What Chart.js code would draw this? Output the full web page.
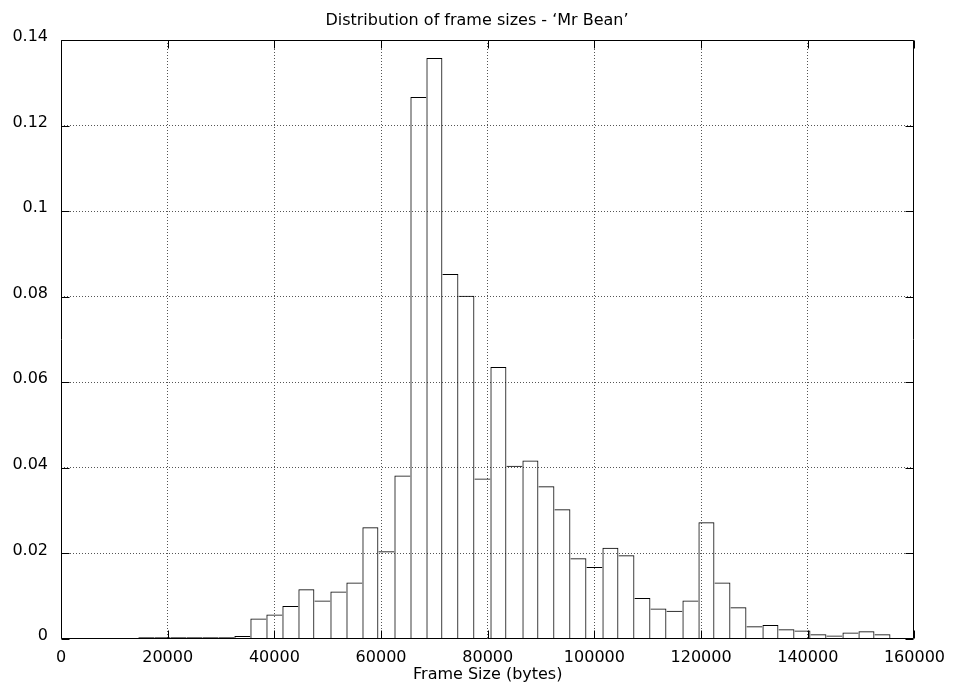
<!DOCTYPE html>
<html>
<head>
<meta charset="utf-8">
<script src="https://cdn.jsdelivr.net/npm/chart.js@4/dist/chart.umd.min.js"></script>
<style>
  html, body { margin: 0; padding: 0; background: #fff; }
  #wrap { width: 954px; height: 689px; }
</style>
</head>
<body>
<div id="wrap"><canvas id="c" width="954" height="689"></canvas></div>
<script>
// ---- data ----
const chartTitle = "Distribution of frame sizes - \u2018Mr Bean\u2019";
const xAxisLabel = "Frame Size (bytes)";
const binCenters = [16000, 19000, 22000, 25000, 28000, 31000, 34000, 37000, 40000, 43000,
  46000, 49000, 52000, 55000, 58000, 61000, 64000, 67000, 70000, 73000,
  76000, 79000, 82000, 85000, 88000, 91000, 94000, 97000, 100000, 103000,
  106000, 109000, 112000, 115000, 118000, 121000, 124000, 127000, 130000, 133000,
  136000, 139000, 142000, 145000, 148000, 151000, 154000];
const frequencies = [0.0004, 0.0004, 0.0004, 0.0004, 0.0004, 0.0004, 0.0007, 0.0048, 0.0057, 0.0077,
  0.0116, 0.0090, 0.0111, 0.0132, 0.0261, 0.0205, 0.0382, 0.1267, 0.1358, 0.0853,
  0.0802, 0.0375, 0.0636, 0.0405, 0.0417, 0.0357, 0.0303, 0.0189, 0.0168, 0.0213,
  0.0196, 0.0096, 0.0071, 0.0066, 0.0090, 0.0273, 0.0132, 0.0074, 0.0030, 0.0033,
  0.0023, 0.0020, 0.0011, 0.0008, 0.0015, 0.0018, 0.0011];
const xTickValues = [0, 20000, 40000, 60000, 80000, 100000, 120000, 140000, 160000];
const xTickLabels = ["0", "20000", "40000", "60000", "80000", "100000", "120000", "140000", "160000"];
const yTickValues = [0, 0.02, 0.04, 0.06, 0.08, 0.1, 0.12, 0.14];
const yTickLabels = ["0", "0.02", "0.04", "0.06", "0.08", "0.1", "0.12", "0.14"];

// ---- chart ----
Chart.defaults.font.family = "'DejaVu Sans', 'Liberation Sans', sans-serif";
Chart.defaults.font.size = 16;
Chart.defaults.color = '#000';

const lastIdx = binCenters.length - 1;

// each shared edge between two boxes is drawn once, by the taller box
function edgeWidths(ctx) {
  const i = ctx.dataIndex;
  const f = frequencies;
  return {
    top: 1,
    bottom: 0,
    left: (i === 0 || f[i] >= f[i - 1]) ? 1 : 0,
    right: (i === lastIdx || f[i] > f[i + 1]) ? 1 : 0
  };
}

const framePlugin = {
  id: 'frame',
  beforeDraw(chart) {
    const ctx = chart.ctx;
    ctx.save();
    ctx.fillStyle = '#fff';
    ctx.fillRect(0, 0, chart.width, chart.height);
    ctx.restore();
  },
  afterDraw(chart) {
    const ctx = chart.ctx;
    const a = chart.chartArea;
    const xs = chart.scales.x, ys = chart.scales.y;
    const L = Math.round(a.left) + 0.5, R = Math.round(a.right) - 0.5;
    const T = Math.round(a.top) + 0.5, B = Math.round(a.bottom) - 0.5;
    const tl = 8;
    ctx.save();
    ctx.strokeStyle = '#000';
    ctx.lineWidth = 1;
    ctx.beginPath();
    ctx.rect(L, T, R - L, B - T);
    // inward tick marks, mirrored on the opposite side
    xTickValues.forEach(v => {
      const px = Math.round(xs.getPixelForValue(v)) + 0.5;
      ctx.moveTo(px, B); ctx.lineTo(px, B - tl);
      ctx.moveTo(px, T); ctx.lineTo(px, T + tl);
    });
    yTickValues.forEach(v => {
      const py = Math.round(ys.getPixelForValue(v)) + 0.5;
      ctx.moveTo(L, py); ctx.lineTo(L + tl, py);
      ctx.moveTo(R, py); ctx.lineTo(R - tl, py);
    });
    ctx.stroke();
    // title and x-axis label
    ctx.fillStyle = '#000';
    ctx.font = "16px 'DejaVu Sans'";
    ctx.textAlign = 'center';
    ctx.textBaseline = 'alphabetic';
    ctx.fillText(chartTitle, chart.width / 2, 25);
    ctx.fillText(xAxisLabel, (a.left + a.right) / 2, 679);
    ctx.restore();
  }
};

new Chart(document.getElementById('c'), {
  type: 'bar',
  data: {
    datasets: [{
      data: binCenters.map((x, i) => ({ x: x, y: frequencies[i] })),
      backgroundColor: 'rgba(0,0,0,0)',
      borderColor: '#000',
      borderWidth: edgeWidths,
      borderSkipped: false,
      barPercentage: 1,
      categoryPercentage: 1,
      grouped: false,
      inflateAmount: 0
    }]
  },
  options: {
    responsive: false,
    animation: false,
    events: [],
    layout: { padding: { top: 40, right: 39, left: 0, bottom: 0 } },
    plugins: {
      legend: { display: false },
      title: { display: false },
      tooltip: { enabled: false }
    },
    scales: {
      x: {
        type: 'linear',
        min: 0, max: 160000,
        offset: false,
        afterFit(s) { s.height = 50; },
        afterBuildTicks(s) { s.ticks = xTickValues.map(v => ({ value: v })); },
        ticks: {
          padding: 9,
          maxRotation: 0,
          autoSkip: false,
          callback: (v) => xTickLabels[xTickValues.indexOf(v)]
        },
        grid: {
          offset: false,
          drawTicks: false,
          color: (c) => (c.tick && (c.tick.value === 0 || c.tick.value === 160000)) ? 'rgba(0,0,0,0)' : '#555',
          lineWidth: 1
        },
        border: { display: false, dash: [1, 2] }
      },
      y: {
        type: 'linear',
        min: 0, max: 0.14,
        afterFit(s) { s.width = 61; },
        afterBuildTicks(s) { s.ticks = yTickValues.map(v => ({ value: v })); },
        ticks: {
          padding: 13,
          labelOffset: -3,
          autoSkip: false,
          callback: (v) => yTickLabels[yTickValues.findIndex(t => Math.abs(t - v) < 1e-9)]
        },
        grid: {
          drawTicks: false,
          color: (c) => (c.tick && (c.tick.value === 0 || Math.abs(c.tick.value - 0.14) < 1e-9)) ? 'rgba(0,0,0,0)' : '#555',
          lineWidth: 1
        },
        border: { display: false, dash: [1, 2] }
      }
    }
  },
  plugins: [framePlugin]
});
</script>
</body>
</html>
